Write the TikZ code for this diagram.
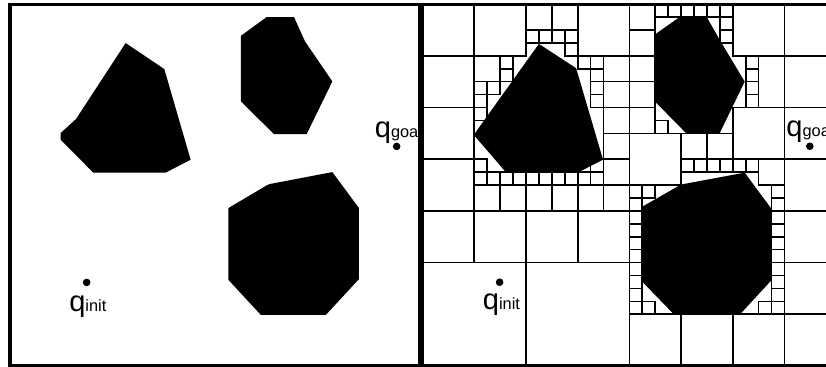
\documentclass[tikz,border=0pt]{standalone}
\usepackage{fontspec}
\setmainfont{Liberation Sans}
\usepackage{tikz}

\begin{document}
\begin{tikzpicture}[
    panel/.style={draw,line width=1.7pt},
    cell/.style={draw,line width=0.9pt},
    obst/.style={fill=black},
    dot/.style={circle,fill=black,inner sep=0pt,minimum size=4.2pt},
    lbl/.style={inner sep=0pt,anchor=base west,font=\fontsize{16}{16}\selectfont}
]
\useasboundingbox (-0.193,-0.019) rectangle (15.783,7.079);
\clip (-0.193,-0.019) rectangle (15.783,7.079);

% left panel: free space with obstacles
\begin{scope}[shift={(0,7)},yscale=-1]
\fill[obst] (2.237,0.754) -- (2.985,1.257) -- (3.494,3.011) -- (3.011,3.26)
      -- (1.612,3.26) -- (0.980,2.624) -- (0.980,2.495) -- (1.277,2.224) -- cycle;
\fill[obst] (4.965,0.251) -- (5.493,0.251) -- (5.706,0.722) -- (6.235,1.496)
      -- (5.738,2.515) -- (5.106,2.515) -- (4.468,1.883) -- (4.468,0.613) -- cycle;
\fill[obst] (6.235,3.250) -- (6.750,3.946) -- (6.750,5.319) -- (6.112,6.009)
      -- (4.849,6.009) -- (4.223,5.332) -- (4.223,3.946) -- (4.965,3.507)
      -- (5.017,3.482) -- cycle;
\draw[panel] (0,0) rectangle (7.93,7);
\node[dot] (initL) at (1.483,5.384) {};
\node[lbl] (initLtxt) at (1.14,5.95) {q{\small init}};
\node[dot] (goalL) at (7.479,2.753) {};
\node[lbl] (goalLtxt) at (7.05,2.575) {q{\small goal}};
\end{scope}

% right panel: quadtree cells
\begin{scope}[shift={(7.98,7)},yscale=-1]
\fill[obst] (2.25,0.77) -- (2.97,1.24) -- (3.49,3.01) -- (3.02,3.25)
      -- (1.61,3.25) -- (0.99,2.53) -- cycle;
\fill[obst] (4.96,0.26) -- (5.50,0.26) -- (5.78,0.75) -- (6.23,1.50)
      -- (5.74,2.51) -- (5.11,2.51) -- (4.49,1.88) -- (4.49,0.59) -- cycle;
\fill[obst] (6.23,3.26) -- (6.74,3.95) -- (6.74,5.35) -- (6.14,6.0)
      -- (4.86,6.0) -- (4.23,5.35) -- (4.23,3.93) -- (5.00,3.49) -- cycle;

% big cells
\foreach \x/\y in {0/0,1/0,3/0,6/0,7/0,0/1,7/1,0/2,6/2,7/2,0/3,7/3,
                   0/4,1/4,2/4,3/4,7/4,7/5,4/6,5/6,6/6,7/6,4/2.5}
  \draw[cell] (\x,\y) rectangle ++(1,1);
\foreach \x/\y in {0/5,2/5}
  \draw[cell] (\x,\y) rectangle ++(2,2);
\draw[cell] (6.5,1) rectangle ++(0.5,1);
% half cells
\foreach \x/\y in {2/0,2.5/0,4/0,4/0.5,1/1,3.5/1,3.5/1.5,4/1,4/1.5,
                   3.5/2,3.5/2.5,4/2,5/2.5,5.5/2.5,3.5/3,6.5/3,
                   1/3.5,1.5/3.5,2/3.5,2.5/3.5,3/3.5,3.5/3.5}
  \draw[cell] (\x,\y) rectangle ++(0.5,0.5);
% quarter cells
\foreach \x/\y in {2/0.5,2.25/0.5,2.5/0.5,2.75/0.5,2.75/0.75,
                   4.5/0,4.75/0,5/0,5.25/0,5.5/0,5.75/0,5.75/0.25,5.75/0.5,
                   1.5/1,1.5/1.25,1/1.5,1.25/1.5,1/1.75,
                   3/1,3.25/1,3.25/1.25,3.25/1.5,3.25/1.75,
                   6.25/1,6.25/1.25,6.25/1.5,6.25/1.75,
                   1/2,4.5/2.25,1/3,3.25/3,
                   5/3,5.25/3,5.5/3,5.75/3,6/3,6.25/3,
                   4.25/3.5,4.25/5.75,6.5/5.75}
  \draw[cell] (\x,\y) rectangle ++(0.25,0.25);
\foreach \x in {1,1.25,...,3.3}
  \draw[cell] (\x,3.25) rectangle ++(0.25,0.25);
\foreach \y in {3.5,3.75,...,5.8}{
  \draw[cell] (4,\y) rectangle ++(0.25,0.25);
  \draw[cell] (6.75,\y) rectangle ++(0.25,0.25);
}

\draw[panel] (0,0) rectangle (8,7);
\node[dot] (initR) at (1.49,5.38) {};
\node[lbl] (initRtxt) at (1.16,5.91) {q{\small init}};
\node[dot] (goalR) at (7.49,2.75) {};
\node[lbl] (goalRtxt) at (7.03,2.56) {q{\small goal}};
\end{scope}
\end{tikzpicture}
\end{document}
